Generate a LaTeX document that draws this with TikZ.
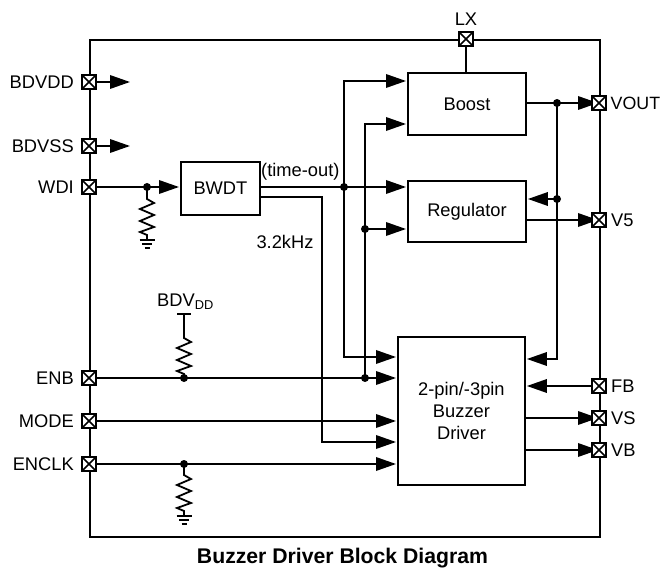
\documentclass[tikz,border=0pt]{standalone}
\usepackage{fontspec}
\setmainfont{Liberation Sans}
\usetikzlibrary{arrows.meta}
\tikzset{
  wire/.style={line width=1.8pt},
  sig/.style={wire,-{Triangle[length=20pt,width=13.5pt]},shorten >=1pt},
  block/.style={draw,line width=1.9pt,fill=white,inner sep=0pt,align=center,font=\fontsize{18.3}{22}\selectfont,anchor=north west},
  pin/.style={draw,line width=2.2pt,fill=white,minimum size=14.5pt,inner sep=0pt,
    path picture={\draw[line width=1.7pt] (path picture bounding box.south west)--(path picture bounding box.north east)
      (path picture bounding box.north west)--(path picture bounding box.south east);}},
  lab/.style={font=\fontsize{18.3}{20}\selectfont,inner sep=0pt},
  smalllab/.style={font=\fontsize{17.8}{20}\selectfont,inner sep=0pt},
  joint/.style={circle,fill=black,minimum size=8pt,inner sep=0pt},
  ttl/.style={font=\bfseries\fontsize{21.2}{24}\selectfont,inner sep=0pt}
}
\newcommand{\zigres}[2]{\draw[wire,line join=miter] (#1) -- ++(0,#2) -- ++(7,4) -- ++(-14,6) -- ++(14,6) -- ++(-14,6) -- ++(14,6) -- ++(-14,5) -- ++(7,3)}
\newcommand{\gndmark}[1]{\draw[wire] (#1) ++(-7.5,0) -- ++(15,0) (#1) ++(-5,4) -- ++(10,0) (#1) ++(-2.5,8) -- ++(5,0);}
\begin{document}
\begin{tikzpicture}[x=1pt,y=-1pt]
\useasboundingbox (0,0) rectangle (661,569);
% enclosure
\node[draw,line width=1.9pt,minimum width=510pt,minimum height=497pt,inner sep=0pt,anchor=north west] (chip) at (89,39) {};
% blocks
\node[block,minimum width=79pt,minimum height=53pt] (bwdt) at (180,161) {BWDT};
\node[block,minimum width=118pt,minimum height=62pt] (boost) at (407,72) {Boost};
\node[block,minimum width=118pt,minimum height=61pt] (reg) at (407,180) {Regulator};
\node[block,minimum width=127pt,minimum height=148pt] (drv) at (397,336) {2-pin/-3pin\\Buzzer\\Driver};
% pin positions
\coordinate (pBDVDD) at (89,82);
\coordinate (pBDVSS) at (89,146);
\coordinate (pWDI) at (89,187);
\coordinate (pENB) at (89,378);
\coordinate (pMODE) at (89,421);
\coordinate (pENCLK) at (89,464);
\coordinate (pLX) at (466,39);
\coordinate (pVOUT) at (599,103);
\coordinate (pV5) at (599,220);
\coordinate (pFB) at (599,386);
\coordinate (pVS) at (599,418);
\coordinate (pVB) at (599,450);
% free ends and junctions
\coordinate (endA) at (131,82);
\coordinate (endB) at (131,146);
\coordinate (jTO) at (344,187);
\coordinate (jB) at (365,229);
\coordinate (jENB) at (365,378);
\coordinate (jR1) at (147,187);
\coordinate (jR2) at (184,378);
\coordinate (jR3) at (184,464);
\coordinate (jV) at (557,103);
\coordinate (jF) at (557,199);
\coordinate (topV) at (184,314);
\coordinate (g1) at (147,240);
\coordinate (g2) at (184,516);
% wires
\draw[sig] (pBDVDD) -- (endA);
\draw[sig] (pBDVSS) -- (endB);
\draw[sig] (pWDI) -- (bwdt.west |- pWDI);
\draw[sig] (bwdt.east |- pWDI) -- (reg.west |- pWDI);
\draw[sig] (jTO) |- (boost.west |- 0,81);
\draw[sig] (jTO) |- (drv.west |- 0,357);
\draw[sig] (jENB) |- (boost.west |- 0,124);
\draw[sig] (jB) -- (reg.west |- jB);
\draw[sig] (pENB) -- (drv.west |- pENB);
\draw[sig] (pMODE) -- (drv.west |- pMODE);
\draw[sig] (pENCLK) -- (drv.west |- pENCLK);
\draw[sig] (bwdt.east |- 0,197) -| (322,442) -- (drv.west |- 0,442);
\draw[wire] (pLX) -- (pLX |- boost.north);
\draw[sig] (boost.east |- pVOUT) -- (pVOUT);
\draw[sig] (reg.east |- pV5) -- (pV5);
\draw[sig] (jV) -- (jF) -- (jF |- 0,359) -- (drv.east |- 0,359);
\draw[sig] (jF) -- (reg.east |- jF);
\draw[sig] (pFB) -- (drv.east |- pFB);
\draw[sig] (drv.east |- pVS) -- (pVS);
\draw[sig] (drv.east |- pVB) -- (pVB);
% resistors and supplies
\zigres{jR1}{12} -- (g1);
\gndmark{g1}
\zigres{jR3}{11} -- (g2);
\gndmark{g2}
\zigres{topV}{24} -- (jR2);
\draw[wire] (177,314) -- (191,314);
% joints
\foreach \j/\n in {jTO/d1,jB/d2,jENB/d3,jR1/d4,jR2/d5,jR3/d6,jV/d7,jF/d8}
  \node[joint] (\n) at (\j) {};
% pins
\foreach \p/\n in {pBDVDD/a,pBDVSS/b,pWDI/c,pENB/d,pMODE/e,pENCLK/f,pLX/g,pVOUT/h,pV5/i,pFB/j,pVS/k,pVB/l}
  \node[pin] (\n) at (\p) {};
% labels
\node[lab,anchor=east] (tBDVDD) at (74,82) {BDVDD};
\node[lab,anchor=east] (tBDVSS) at (74,146) {BDVSS};
\node[lab,anchor=east] (tWDI) at (74,187) {WDI};
\node[lab,anchor=east] (tENB) at (74,378) {ENB};
\node[lab,anchor=east] (tMODE) at (74,421) {MODE};
\node[lab,anchor=east] (tENCLK) at (74,464) {ENCLK};
\node[lab] (tLX) at (466,19) {LX};
\node[smalllab,anchor=west] (tVOUT) at (610.5,103) {VOUT};
\node[lab,anchor=west] (tV5) at (611,220) {V5};
\node[lab,anchor=west] (tFB) at (611,386) {FB};
\node[lab,anchor=west] (tVS) at (611,418) {VS};
\node[lab,anchor=west] (tVB) at (611,450) {VB};
\node[lab,anchor=west] (tTO) at (261,172) {(time-out)};
\node[lab] (tKHZ) at (285,242) {3.2kHz};
\node[lab,anchor=west] (tBDV) at (157,302) {BDV\textsubscript{DD}};
\node[ttl] (title) at (342.5,558) {Buzzer Driver Block Diagram};
\end{tikzpicture}
\end{document}
